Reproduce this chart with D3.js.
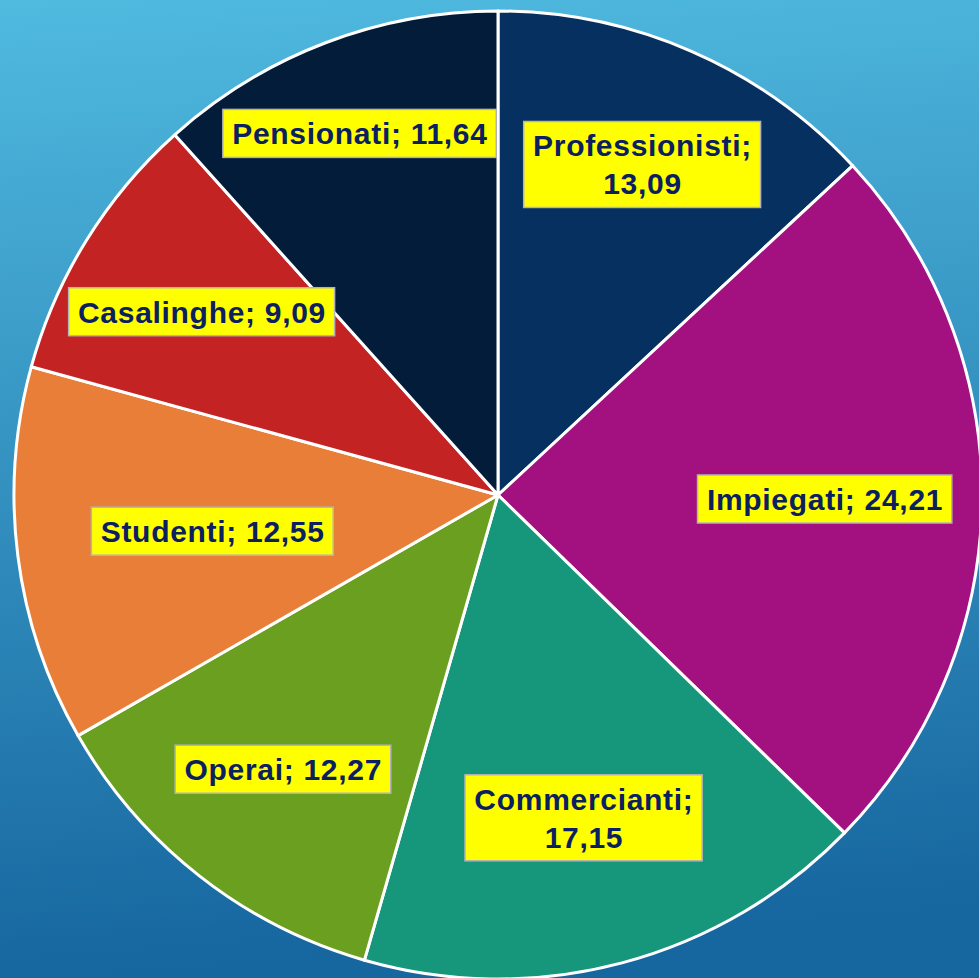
<!DOCTYPE html>
<html>
<head>
<meta charset="utf-8">
<script src="https://cdn.jsdelivr.net/npm/d3@7"></script>
<style>
  html, body { margin: 0; padding: 0; overflow: hidden; }
  svg { display: block; }
</style>
</head>
<body>
<svg id="torta"></svg>
<script>
// dati della torta (percentuali)
const categorie = ["Professionisti", "Impiegati", "Commercianti", "Operai", "Studenti", "Casalinghe", "Pensionati"];
const valori = [13.09, 24.21, 17.15, 12.27, 12.55, 9.09, 11.64];
const colori = ["#06305f", "#a3107f", "#16967b", "#6a9f1f", "#e87e37", "#c42324", "#031c3a"];

const width = 979, height = 978;
const cx = 498, cy = 495, R = 484;

// etichette: a capo dopo il ";" e distanza dal centro (frazione del raggio)
const aCapo = {"Professionisti": true, "Commercianti": true};
const distEtichetta = {
  "Professionisti": 0.745, "Impiegati": 0.675, "Commercianti": 0.69,
  "Operai": 0.72, "Studenti": 0.595, "Casalinghe": 0.72, "Pensionati": 0.80
};

const it = d3.formatLocale({decimal: ",", thousands: ".", grouping: [3], currency: ["€", ""]});
const fmt = it.format(".2f");

const svg = d3.select("#torta")
  .attr("width", width)
  .attr("height", height);

const defs = svg.append("defs");
const grad = defs.append("linearGradient")
  .attr("id", "sfondo")
  .attr("x1", 0).attr("y1", 0).attr("x2", 0.08).attr("y2", 1);
grad.append("stop").attr("offset", "0%").attr("stop-color", "#50badf");
grad.append("stop").attr("offset", "100%").attr("stop-color", "#16669f");

svg.append("rect")
  .attr("width", width)
  .attr("height", height)
  .attr("fill", "url(#sfondo)");

const dati = categorie.map((c, i) => ({nome: c, valore: valori[i], colore: colori[i]}));

const pie = d3.pie().sort(null).value(d => d.valore);
const arc = d3.arc().innerRadius(0).outerRadius(R);

const g = svg.append("g").attr("transform", `translate(${cx},${cy})`);

const fette = pie(dati);

g.selectAll("path")
  .data(fette)
  .enter().append("path")
  .attr("d", arc)
  .attr("fill", d => d.data.colore)
  .attr("stroke", "white")
  .attr("stroke-width", 3)
  .attr("stroke-linejoin", "round");

//etichette gialle
const lab = g.selectAll("g.etichetta")
  .data(fette)
  .enter().append("g")
  .attr("class", "etichetta")
  .attr("transform", d => {
    const k = distEtichetta[d.data.nome] * R;
    const p = d3.arc().innerRadius(k).outerRadius(k).centroid(d);
    return `translate(${p[0]},${p[1]})`;
  });

const fontSize = 30, lineH = 38, padX = 9, spazio = 0.7;

lab.each(function(d) {
  const el = d3.select(this);
  const righe = aCapo[d.data.nome]
    ? [d.data.nome + ";", fmt(d.data.valore)]
    : [d.data.nome + "; " + fmt(d.data.valore)];
  const box = el.append("rect")
    .attr("fill", "#ffff00")
    .attr("stroke", "#b4b4b4")
    .attr("stroke-width", 1.5);
  const t = el.append("text")
    .attr("text-anchor", "middle")
    .attr("font-family", "'Liberation Sans', Arial, sans-serif")
    .attr("font-weight", "bold")
    .attr("font-size", fontSize)
    .attr("letter-spacing", spazio)
    .attr("fill", "#0b2060");
  const y0 = -(righe.length - 1) * lineH / 2;
  righe.forEach((r, i) => {
    t.append("tspan")
      .attr("x", spazio / 2)
      .attr("y", y0 + i * lineH)
      .attr("dy", "0.36em")
      .text(r);
  });
  const w = d3.max(t.selectAll("tspan").nodes(), n => n.getComputedTextLength());
  const h = (righe.length - 1) * lineH + 48;
  box.attr("x", -w / 2 - padX)
    .attr("y", -h / 2)
    .attr("width", w + padX * 2)
    .attr("height", h);
});
</script>
</body>
</html>
